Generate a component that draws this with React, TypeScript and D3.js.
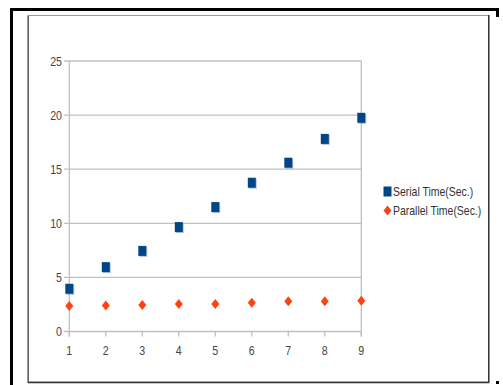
import React from "react";
import * as d3 from "d3";

// Run index (x axis)
const runs = [1, 2, 3, 4, 5, 6, 7, 8, 9];
// Execution times in seconds
const serialTime = [3.95, 5.95, 7.45, 9.65, 11.5, 13.75, 15.6, 17.8, 19.75];
const parallelTime = [2.35, 2.4, 2.45, 2.55, 2.55, 2.65, 2.8, 2.8, 2.85];
const yTicks = [0, 5, 10, 15, 20, 25];
const seriesNames = ["Serial Time(Sec.)", "Parallel Time(Sec.)"];

const W = 503;
const H = 385;
const FONT = "'Liberation Sans', Arial, sans-serif";
const NAVY = "#004586";
const ORANGE = "#ff420e";
const SQUEEZE = 0.85;

// Condensed text: horizontally squeezed around its anchor point
function Label(props: {
  x: number;
  y: number;
  anchor?: "start" | "middle" | "end";
  size?: number;
  fill?: string;
  dy?: string;
  children: React.ReactNode;
}) {
  const { x, y, anchor = "start", size = 12.5, fill = "#444", dy, children } = props;
  return (
    <g transform={`translate(${x},${y}) scale(${SQUEEZE},1)`}>
      <text x={0} y={0} dy={dy} textAnchor={anchor} fontSize={size} fill={fill}>
        {children}
      </text>
    </g>
  );
}

export default function App() {
  const x = d3.scaleLinear().domain([1, 9]).range([69.3, 361.3]);
  const y = d3.scaleLinear().domain([0, 25]).range([331.5, 61]);

  const square = (cx: number, cy: number) => `M${cx - 4},${cy - 5}h8v10h-8z`;
  const diamond = (cx: number, cy: number) =>
    `M${cx},${cy - 5}L${cx + 4},${cy}L${cx},${cy + 5}L${cx - 4},${cy}Z`;

  return (
    <svg
      width={W}
      height={H}
      style={{ position: "absolute", left: 0, top: 0, display: "block" }}
      fontFamily={FONT}
    >
      <rect x={0} y={0} width={W} height={H} fill="#fff" />
      {/* outer black border */}
      <line x1={10} y1={9.5} x2={499} y2={9.5} stroke="#000" strokeWidth={3} />
      <line x1={11.5} y1={8} x2={11.5} y2={385} stroke="#000" strokeWidth={3} />
      <line x1={497.5} y1={8} x2={497.5} y2={17} stroke="#000" strokeWidth={3} />
      <rect x={496} y={381} width={3} height={3} fill="#000" />

      {/* chart frame */}
      <rect x={28.5} y={15.5} width={460} height={366.5} fill="#fff" stroke="#999" strokeWidth={1} />
      <line x1={28} y1={382.5} x2={489} y2={382.5} stroke="#333" strokeWidth={1.5} />
      <line x1={488.8} y1={15} x2={488.8} y2={383} stroke="#333" strokeWidth={1.5} />
      <line x1={28} y1={15.5} x2={28} y2={383} stroke="#333" strokeWidth={1} />

      {/* horizontal grid lines and y ticks */}
      {yTicks.map((t) => (
        <g key={t}>
          <line x1={64} x2={x(9)} y1={y(t)} y2={y(t)} stroke="#c0c0c0" strokeWidth={1.3} />
          <Label x={62} y={y(t)} dy="0.36em" anchor="end">
            {t}
          </Label>
        </g>
      ))}
      {/* plot area side borders */}
      <line x1={x(1)} x2={x(1)} y1={y(25)} y2={y(0) + 5} stroke="#c0c0c0" strokeWidth={1.3} />
      <line x1={x(9)} x2={x(9)} y1={y(25)} y2={y(0) + 5} stroke="#c0c0c0" strokeWidth={1.3} />

      {/* x ticks */}
      {runs.map((r) => (
        <g key={r}>
          <line x1={x(r)} x2={x(r)} y1={y(0)} y2={y(0) + 5} stroke="#c0c0c0" strokeWidth={1.3} />
          <Label x={x(r)} y={355} anchor="middle">
            {r}
          </Label>
        </g>
      ))}

      {/* parallel series */}
      {parallelTime.map((v, i) => (
        <path key={"p" + i} d={diamond(x(runs[i]), y(v))} fill={ORANGE} />
      ))}
      {/* serial series */}
      {serialTime.map((v, i) => (
        <g key={"s" + i}>
          <path d={square(x(runs[i]) + 1, y(v) + 1)} fill="#7f9fc0" opacity={0.6} />
          <path d={square(x(runs[i]), y(v))} fill={NAVY} />
        </g>
      ))}

      {/* legend */}
      <path d={square(387.5, 191.5)} fill={NAVY} />
      <Label x={393} y={196} size={12.3} fill="#333">
        {seriesNames[0]}
      </Label>
      <path d={diamond(387.5, 210.5)} fill={ORANGE} />
      <Label x={393} y={214.5} size={12.3} fill="#333">
        {seriesNames[1]}
      </Label>
    </svg>
  );
}
